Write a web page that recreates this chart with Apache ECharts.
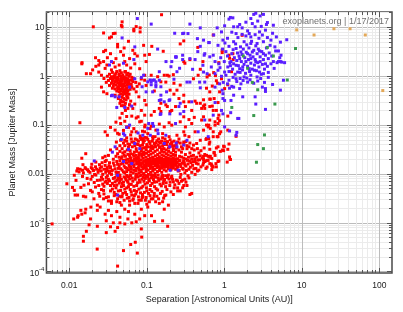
<!DOCTYPE html>
<html><head><meta charset="utf-8">
<script src="https://cdn.jsdelivr.net/npm/echarts@6/dist/echarts.min.js"></script>
<style>html,body{margin:0;padding:0;background:#fff}#c{width:403px;height:312px}</style>
</head><body><div id="c"></div>
<script>
// ---- axis ticks ----
const xTickValues = [0.01, 0.1, 1, 10, 100];
const xTickLabels = ['0.01', '0.1', '1', '10', '100'];
const yTickValues = [10, 1, 0.1, 0.01, 0.001, 0.0001];
const yTickLabels = ['10', '1', '0.1', '0.01', '10^-3', '10^-4'];
const xRange = [0.00507, 146];
const yRange = [0.0000939, 20.7];
const xTitle = 'Separation [Astronomical Units (AU)]';
const yTitle = 'Planet Mass [Jupiter Mass]';
const stamp = 'exoplanets.org | 1/17/2017';

// ---- data: [separation AU, mass Mjup] ----
const redUpper = [
[0.0204,10.3],[0.048,13],[0.048,10.3],[0.068,9.2],[0.082,9.8],[0.082,8.1],[0.0277,7.7],[0.037,7.5],[0.035,6.4],[0.033,6.1],[0.042,4.5],[0.042,4.0],[0.051,3.8],[0.091,4.3],[0.0294,3.4],[0.0277,3.2],[0.046,3.2],[0.05,2.7],[0.07,2.9],[0.0755,2.6],[0.094,2.7],[0.0218,2.4],[0.024,2.1],[0.025,1.9],[0.024,1.7],[0.0145,1.8],[0.0277,2.0],[0.0306,1.7],[0.037,1.9],[0.039,1.55],[0.044,1.7],[0.052,2.0],[0.055,1.7],[0.062,1.48],[0.07,1.8],[0.081,1.43],[0.0166,1.13],[0.0188,1.13],[0.024,1.22],[0.026,1.05],[0.094,1.05],[0.098,0.65],[0.058,0.70],[0.0146,1.9],[0.031,2.4],[0.034,2.9],[0.04,2.3],[0.029,1.45],[0.035,1.35],[0.045,1.3],[0.06,2.3],[0.066,3.4],[0.058,5.2],[0.053,1.25],[0.02,1.35],[0.022,1.6],[0.073,10.4],[0.047,11],[0.039,7.6],[0.068,8.5],
[0.155,18.2],[0.30,5.3],[0.72,7.0],[0.455,3.9],[0.163,3.25],[0.116,4.1],[0.108,2.8],[0.098,2.0],[0.30,2.0],[0.94,3.4],[1.15,2.7],[1.29,2.9],[0.92,0.89],[1.11,0.67],[1.01,0.56],[0.60,0.97],[0.46,1.05],[0.40,0.89],[0.22,1.08],[0.184,1.05],[0.168,1.05],[0.114,1.05],[0.094,0.83],[0.176,0.76],[0.125,0.50],[0.224,0.43],[0.26,0.35],[0.30,0.30],[0.42,0.31],[0.65,0.34],[0.74,0.35],[0.138,0.98],[0.194,1.01],[0.152,0.77],[0.224,0.72],[0.27,0.66],[0.245,0.52],[0.2,0.52],[0.3,0.41],[0.152,0.28],[0.184,0.24],[0.2,0.19],[0.152,0.19],[0.114,0.16],[0.3,0.148],[0.38,0.2],[0.44,0.28],[0.54,0.33],[0.65,0.48],[0.70,0.63],[0.79,0.81],[0.59,0.57],[0.36,2.2],[0.31,1.85],[0.27,4.6],[0.49,1.39],[0.53,2.0],[0.64,1.06],[0.73,1.19],[0.85,1.9],[0.94,3.05],[1.7,6.9],[1.3,2.2],[1.24,1.24],[1.17,2.34],[0.77,1.03],[0.82,0.72],[0.87,0.48],[0.7,0.245],[0.79,0.2],[0.85,0.16],[0.65,0.127],[0.62,0.092],[0.72,0.073],[0.83,0.058],[0.56,0.22],[0.54,0.245],[0.72,0.2],[0.66,0.34]
];
const redHotJupiters = [
[0.036,1.2],[0.041,1.25],[0.047,1.18],[0.052,1.22],[0.057,1.15],[0.033,1.1],[0.039,1.08],[0.044,1.12],[0.049,1.05],[0.055,1.08],[0.061,1.1],[0.031,1.0],[0.035,0.98],[0.038,1.02],[0.042,0.95],[0.046,1.0],[0.051,0.97],[0.054,0.93],[0.059,1.0],[0.064,0.95],[0.034,0.9],[0.037,0.88],[0.04,0.92],[0.043,0.86],[0.047,0.9],[0.05,0.87],[0.053,0.84],[0.057,0.89],[0.062,0.83],[0.032,0.82],[0.036,0.8],[0.039,0.78],[0.041,0.82],[0.045,0.79],[0.048,0.81],[0.052,0.76],[0.055,0.79],[0.058,0.74],[0.066,0.78],[0.035,0.72],[0.038,0.7],[0.042,0.73],[0.044,0.68],[0.047,0.71],[0.05,0.69],[0.053,0.72],[0.056,0.66],[0.06,0.7],[0.033,0.65],[0.037,0.63],[0.04,0.66],[0.043,0.61],[0.046,0.64],[0.049,0.6],[0.052,0.63],[0.055,0.58],[0.059,0.61],[0.064,0.6],[0.036,0.57],[0.039,0.55],[0.042,0.58],[0.045,0.54],[0.048,0.56],[0.051,0.53],[0.054,0.55],[0.057,0.51],[0.061,0.54],[0.041,0.5],[0.044,0.48],[0.047,0.51],[0.05,0.47],[0.053,0.49],[0.056,0.45],[0.046,0.44],[0.049,0.42],[0.052,0.44],[0.044,0.4],[0.055,0.4],[0.059,0.43],[0.048,0.37],[0.051,0.35],[0.054,0.33],[0.057,0.36],[0.05,0.3],[0.053,0.28],[0.046,0.32],[0.062,0.31],[0.06,0.26],[0.047,0.25],[0.057,0.22],[0.053,0.2],[0.066,0.22],[0.07,0.27],[0.052,0.52],[0.049,0.66],[0.045,0.74],[0.041,0.86],[0.038,0.95],[0.044,1.03],[0.049,0.93],[0.04,1.15],[0.058,0.82],[0.063,0.68],[0.067,0.9],[0.072,0.75],[0.075,0.62],[0.068,0.55],[0.073,0.48],[0.08,0.7],[0.085,0.88],[0.03,0.75],[0.028,0.9],[0.026,0.6],[0.043,0.56],[0.056,0.38],[0.0277,0.48],[0.0306,0.44],[0.039,0.41],[0.043,0.35],[0.048,0.3],[0.05,0.25],[0.094,0.32],[0.079,0.38]
];
const redMiddle = [
[0.045,0.28],[0.052,0.245],[0.06,0.26],[0.048,0.174],[0.064,0.153],[0.077,0.148],[0.094,0.16],[0.081,0.117],[0.046,0.108],[0.055,0.092],[0.029,0.073],[0.031,0.062],[0.039,0.079],[0.044,0.065],[0.064,0.073],[0.073,0.073],[0.094,0.073],[0.0405,0.045],[0.052,0.049],[0.064,0.045],[0.085,0.051],[0.0163,0.026],[0.0145,0.021],[0.029,0.023],[0.034,0.031],[0.041,0.033],[0.029,0.018],[0.0137,0.112],
[0.055,0.15],[0.045,0.14],[0.052,0.12],[0.058,0.09],[0.068,0.085],[0.05,0.078],[0.042,0.068],[0.062,0.063],[0.055,0.055],[0.071,0.052],[0.082,0.06],[0.046,0.049],[0.09,0.048],[0.057,0.041],[0.077,0.04],[0.1,0.055],[0.088,0.075],[0.095,0.1],[0.11,0.085],[0.085,0.12],[0.073,0.14],[0.04,0.115],[0.034,0.09],
[0.085,0.2],[0.098,0.26],[0.125,0.19],[0.145,0.22],[0.176,0.26],[0.21,0.2],[0.235,0.24],[0.315,0.24],[0.35,0.30],[0.49,0.28],[0.51,0.22],[0.56,0.26],[0.65,0.24],[0.83,0.29],[0.54,0.148],[0.51,0.127],[0.59,0.1],[0.83,0.137],[1.11,0.153],[0.76,0.117],[0.38,0.108],[0.315,0.092],[0.27,0.117],[0.21,0.1],[0.194,0.112],[0.168,0.092],[0.145,0.105],[0.131,0.079],[0.114,0.095],[0.094,0.092],[0.103,0.067],[0.119,0.058],[0.16,0.067],[0.194,0.058],[0.245,0.062],[0.30,0.073],[0.35,0.058],[0.42,0.073],[0.49,0.049],[0.59,0.053],[0.72,0.058],[0.87,0.067],[1.11,0.079],[0.089,0.053],[0.145,0.045],[0.21,0.045],[0.30,0.045],[0.44,0.042],[0.65,0.045],[0.83,0.036],[0.76,0.024],[0.62,0.023],[0.83,0.018],[0.69,0.015],
[0.35,0.13],[0.31,0.062],[0.41,0.144],[0.63,0.053],[0.54,0.079],
[0.63,0.1],[0.76,0.1],[0.83,0.108],[0.87,0.123],[0.66,0.086],[0.81,0.058],[0.9,0.073],[0.58,0.051],[0.98,0.037],[1.15,0.041],[1.11,0.032],[0.98,0.03],[0.89,0.029],[0.64,0.041],[0.65,0.032],[0.54,0.023],[0.59,0.024],[0.66,0.023],[0.74,0.027],[1.19,0.0198],[1.09,0.0175],[0.78,0.0163],[0.65,0.0163],[0.7,0.0143],[0.69,0.0123],[0.79,0.014],[0.56,0.018],[0.62,0.019],[0.85,0.0185],[1.42,0.059]
];
const redCore = [
[0.062,0.011],[0.062,0.014],[0.062,0.017],[0.062,0.021],[0.062,0.026],[0.063,0.0125],[0.063,0.019],[0.061,0.0095],[0.061,0.03],[0.064,0.016],
[0.068,0.012],[0.068,0.0155],[0.067,0.018],[0.068,0.023],[0.069,0.028],[0.067,0.0105],[0.069,0.02],[0.068,0.014],[0.067,0.025],
[0.073,0.0098],[0.073,0.013],[0.074,0.016],[0.072,0.019],[0.073,0.024],[0.074,0.029],[0.072,0.0115],[0.073,0.021],[0.074,0.0175],[0.073,0.033],
[0.079,0.0105],[0.078,0.0135],[0.08,0.015],[0.079,0.018],[0.078,0.022],[0.08,0.027],[0.079,0.012],[0.078,0.02],[0.08,0.025],[0.079,0.016],
[0.085,0.0095],[0.084,0.012],[0.086,0.014],[0.085,0.017],[0.084,0.0195],[0.086,0.023],[0.085,0.03],[0.084,0.0155],[0.086,0.026],[0.085,0.011],
[0.091,0.0102],[0.09,0.0128],[0.092,0.015],[0.091,0.0185],[0.09,0.021],[0.092,0.025],[0.091,0.028],[0.09,0.0165],[0.092,0.0135],[0.091,0.034],
[0.098,0.0112],[0.097,0.0138],[0.099,0.016],[0.098,0.019],[0.097,0.022],[0.099,0.0265],[0.098,0.031],[0.097,0.0175],[0.099,0.0125],[0.098,0.0145],
[0.105,0.0098],[0.104,0.012],[0.106,0.0148],[0.105,0.017],[0.104,0.02],[0.106,0.024],[0.105,0.0285],[0.104,0.0185],[0.106,0.0158],[0.105,0.036],
[0.112,0.0108],[0.111,0.013],[0.113,0.0152],[0.112,0.0178],[0.111,0.021],[0.113,0.0255],[0.112,0.03],[0.111,0.0192],[0.113,0.0165],[0.112,0.0142],
[0.12,0.0115],[0.119,0.0138],[0.121,0.016],[0.12,0.0188],[0.119,0.022],[0.121,0.027],[0.12,0.033],[0.119,0.0175],[0.121,0.0205],[0.12,0.0125],
[0.128,0.0102],[0.127,0.0125],[0.129,0.0148],[0.128,0.017],[0.127,0.0198],[0.129,0.0235],[0.128,0.029],[0.127,0.0185],[0.129,0.0158],[0.128,0.038],
[0.137,0.0112],[0.136,0.0135],[0.138,0.0158],[0.137,0.0182],[0.136,0.021],[0.138,0.025],[0.137,0.031],[0.136,0.0195],[0.138,0.0168],[0.137,0.0145],
[0.146,0.0118],[0.145,0.0142],[0.147,0.0165],[0.146,0.019],[0.145,0.0225],[0.147,0.027],[0.146,0.0205],[0.145,0.0175],[0.147,0.0128],[0.146,0.035],
[0.156,0.0108],[0.155,0.0132],[0.157,0.0155],[0.156,0.018],[0.155,0.021],[0.157,0.0245],[0.156,0.029],[0.155,0.0195],[0.157,0.0168],[0.156,0.0145],
[0.167,0.0122],[0.166,0.0148],[0.168,0.0172],[0.167,0.02],[0.166,0.0235],[0.168,0.028],[0.167,0.019],[0.166,0.0162],[0.168,0.0138],[0.167,0.033],
[0.178,0.0115],[0.177,0.014],[0.179,0.0165],[0.178,0.019],[0.177,0.022],[0.179,0.026],[0.178,0.0205],[0.177,0.0178],[0.179,0.0152],[0.178,0.031],
[0.19,0.0128],[0.189,0.0155],[0.191,0.018],[0.19,0.021],[0.189,0.0245],[0.191,0.0195],[0.19,0.0168],[0.189,0.0142],[0.191,0.029],
[0.205,0.0122],[0.204,0.0148],[0.206,0.0172],[0.205,0.0198],[0.204,0.023],[0.206,0.027],[0.205,0.0185],[0.204,0.016],[0.206,0.0135],
[0.22,0.0132],[0.219,0.0158],[0.221,0.0185],[0.22,0.0215],[0.219,0.025],[0.221,0.0195],[0.22,0.0168],[0.219,0.0145],[0.221,0.03],
[0.236,0.0125],[0.235,0.015],[0.237,0.0175],[0.236,0.0205],[0.235,0.024],[0.237,0.0188],[0.236,0.0162],[0.235,0.028]
];
const redCoreEdge = [
[0.036,0.012],[0.038,0.015],[0.04,0.011],[0.041,0.018],[0.043,0.013],[0.044,0.022],[0.045,0.0095],[0.046,0.016],[0.048,0.012],[0.049,0.027],[0.05,0.019],[0.051,0.0145],[0.052,0.0105],[0.053,0.023],[0.054,0.017],[0.055,0.013],[0.056,0.031],[0.057,0.02],[0.058,0.0088],[0.059,0.015],[0.06,0.024],[0.037,0.02],[0.039,0.0085],[0.042,0.026],[0.047,0.0078],[0.05,0.0068],[0.053,0.0082],[0.056,0.0072],[0.059,0.0062],[0.044,0.0065],[0.041,0.0074],[0.038,0.0058],[0.047,0.0055],[0.055,0.0052],[0.035,0.0098],[0.034,0.0135],[0.032,0.0115],[0.033,0.017],[0.03,0.0125],[0.031,0.0092],[0.048,0.033],[0.052,0.038],[0.045,0.029],[0.058,0.035],[0.04,0.023],
[0.25,0.014],[0.26,0.019],[0.265,0.023],[0.27,0.016],[0.28,0.028],[0.29,0.013],[0.3,0.021],[0.305,0.017],[0.315,0.025],[0.32,0.0145],[0.33,0.033],[0.335,0.019],[0.345,0.022],[0.35,0.0125],[0.36,0.027],[0.37,0.017],[0.38,0.02],[0.39,0.015],[0.4,0.024],[0.41,0.031],[0.42,0.018],[0.43,0.013],[0.44,0.022],[0.46,0.016],[0.47,0.027],[0.48,0.0195],[0.5,0.014],[0.52,0.021],[0.54,0.017],[0.56,0.025],[0.58,0.013],[0.6,0.019],[0.26,0.031],[0.28,0.036],[0.3,0.041],[0.33,0.038],[0.36,0.043],[0.255,0.0115],[0.275,0.0098],[0.31,0.0105],[0.34,0.0092],[0.38,0.0108],[0.42,0.0098],[0.45,0.0115],[0.27,0.0085],[0.29,0.0075],[0.25,0.0072],[0.32,0.0068],[0.38,0.033],[0.5,0.03],[0.55,0.034],[0.65,0.022],[0.68,0.016],[0.47,0.012],[0.6,0.0139],[0.72,0.0139],[0.54,0.0198],[0.69,0.0207],[0.74,0.0275],[0.79,0.034],[1.0,0.036],[0.95,0.031],[1.17,0.0223],[1.2,0.0198],
[0.065,0.036],[0.075,0.041],[0.082,0.038],[0.09,0.044],[0.1,0.04],[0.108,0.046],[0.115,0.037],[0.125,0.042],[0.135,0.048],[0.14,0.039],[0.15,0.043],[0.16,0.037],[0.17,0.045],[0.18,0.04],[0.195,0.036],[0.21,0.042],[0.23,0.038],[0.25,0.045],[0.12,0.053],[0.16,0.055],[0.2,0.05],[0.095,0.056],[0.075,0.05],[0.24,0.034],[0.22,0.033],[0.113,0.034],[0.13,0.036],[0.155,0.032],[0.085,0.033],[0.068,0.045]
];
const redCoreFill = [
[0.037,0.0081],[0.039,0.0069],[0.041,0.0059],[0.043,0.0088],[0.045,0.0072],[0.048,0.0064],[0.051,0.0087],[0.052,0.0049],[0.054,0.0076],[0.058,0.0055],[0.06,0.0079],[0.063,0.0061],[0.066,0.0071],[0.069,0.0046],[0.071,0.0078],[0.074,0.0058],[0.077,0.0087],[0.079,0.0049],[0.082,0.0068],[0.087,0.0078],[0.089,0.0056],[0.092,0.0071],[0.096,0.0081],[0.099,0.0052],[0.102,0.0066],[0.108,0.0072],[0.11,0.0048],[0.114,0.0083],[0.117,0.0064],[0.122,0.0077],[0.126,0.0055],[0.13,0.0086],[0.134,0.0069],[0.138,0.0047],[0.143,0.0074],[0.151,0.0079],[0.154,0.0057],[0.16,0.0082],[0.163,0.0064],[0.17,0.0077],[0.178,0.0066],[0.182,0.0048],[0.193,0.0079],[0.198,0.0058],[0.208,0.0084],[0.22,0.0069],[0.226,0.0052],[0.24,0.0075],[0.26,0.0064],[0.28,0.0071],[0.29,0.0052],[0.31,0.0078],[0.33,0.0058],[0.35,0.0083],[0.045,0.0085],[0.055,0.0093],[0.075,0.0095],[0.098,0.0092],[0.12,0.0094],[0.175,0.0092],
[0.041,0.0098],[0.043,0.0108],[0.044,0.0145],[0.046,0.0128],[0.047,0.021],[0.049,0.0165],[0.05,0.011],[0.051,0.0245],[0.053,0.0135],[0.054,0.0195],[0.055,0.0112],[0.056,0.0168],[0.057,0.0252],[0.058,0.0122],[0.059,0.0182],[0.06,0.0138],[0.061,0.0215],[0.042,0.0158],[0.039,0.0128],[0.037,0.0168],[0.035,0.0115],[0.045,0.0188],[0.048,0.0225],[0.052,0.0285],[0.245,0.0135],[0.248,0.0172],[0.252,0.0205],[0.258,0.0155],[0.262,0.0118],[0.268,0.0188],[0.275,0.0142],[0.282,0.0222],[0.288,0.0165],[0.295,0.0125],[0.298,0.0185],[0.31,0.0152],[0.318,0.0202],[0.325,0.0118],[0.34,0.016],[0.355,0.0185],[0.365,0.0138],[0.375,0.0232],[0.395,0.0178],[0.405,0.0128],[0.415,0.0205],[0.435,0.0165],[0.455,0.0192],[0.49,0.0235],[0.53,0.0152],[0.57,0.0185],
[0.045,0.038],[0.05,0.043],[0.055,0.047],[0.06,0.04],[0.063,0.052],[0.07,0.038],[0.078,0.047],[0.083,0.055],[0.088,0.039],[0.093,0.048],[0.097,0.035],[0.103,0.051],[0.11,0.042],[0.118,0.047],[0.122,0.036],[0.128,0.058],[0.132,0.044],[0.142,0.052],[0.148,0.036],[0.155,0.047],[0.165,0.04],[0.172,0.052],[0.185,0.046],[0.19,0.034],[0.2,0.041],[0.215,0.037],[0.225,0.047],[0.24,0.04],[0.27,0.043],[0.29,0.033],[0.32,0.046],[0.35,0.036],[0.4,0.039],[0.45,0.033],[0.26,0.052],
[0.026,0.0048],[0.028,0.0056],[0.031,0.0064],[0.032,0.0078],[0.034,0.0058],[0.036,0.0049],[0.038,0.0042],[0.04,0.0038],[0.043,0.0045],[0.044,0.0035],[0.049,0.004],[0.051,0.0029],[0.055,0.0038],[0.059,0.0033],[0.063,0.0043],[0.067,0.0031],[0.069,0.0036],[0.074,0.0044],[0.079,0.0029],[0.083,0.0041],[0.087,0.0033],[0.093,0.0042],[0.096,0.0029],[0.105,0.004],[0.108,0.0027],[0.116,0.0044],[0.124,0.0035],[0.142,0.0031],[0.158,0.0044],[0.165,0.0032],[0.205,0.0043],[0.22,0.0038],[0.028,0.0039],[0.03,0.0033],[0.024,0.0058],[0.021,0.0067],[0.019,0.0078],[0.022,0.0095],[0.027,0.0078],[0.03,0.0072]
];
const redLower = [
[0.03,0.0085],[0.033,0.0072],[0.036,0.0064],[0.04,0.0052],[0.043,0.0078],[0.046,0.0046],[0.05,0.0058],[0.053,0.0042],[0.057,0.0068],[0.061,0.0048],[0.065,0.0082],[0.068,0.0056],[0.072,0.0039],[0.076,0.0066],[0.08,0.0075],[0.085,0.0052],[0.09,0.0085],[0.095,0.0062],[0.1,0.0045],[0.106,0.0078],[0.112,0.0058],[0.118,0.0088],[0.125,0.0068],[0.132,0.005],[0.14,0.0082],[0.148,0.0062],[0.156,0.0088],[0.165,0.0072],[0.175,0.0055],[0.185,0.0085],[0.2,0.0068],[0.215,0.0078],[0.23,0.006],[0.25,0.0052],[0.27,0.0045],[0.3,0.0058],[0.36,0.0038],[0.38,0.004],[0.25,0.0045],[0.062,0.0092],[0.072,0.0088],[0.082,0.0092],[0.093,0.0095],[0.103,0.0088],[0.115,0.0095],[0.128,0.009],[0.14,0.0095],[0.16,0.0093],[0.19,0.0095],[0.21,0.009],[0.048,0.0035],[0.056,0.0032],[0.064,0.0037],[0.078,0.0034],[0.088,0.0038],[0.098,0.0033],[0.11,0.0036],[0.12,0.0031],[0.135,0.0035],[0.15,0.004],[0.17,0.0036],[0.042,0.0031],[0.038,0.0036],[0.034,0.0045],[0.027,0.0062],[0.025,0.0075],[0.035,0.0028],[0.045,0.0026],[0.06,0.0028],[0.07,0.0025],[0.085,0.0029],[0.1,0.0024],[0.13,0.0027],[0.16,0.0027],[0.19,0.0023],[0.168,0.0019],
[0.023,0.0023],[0.023,0.0018],[0.019,0.0021],[0.0163,0.0019],[0.016,0.0016],[0.0145,0.0015],[0.0141,0.0018],[0.013,0.0014],[0.0128,0.0013],[0.0114,0.0012],[0.0188,0.0012],[0.03,0.0011],[0.034,0.00083],[0.037,0.001],[0.039,0.00067],[0.042,0.0008],[0.045,0.001],[0.052,0.00095],[0.057,0.0012],[0.064,0.001],[0.073,0.00105],[0.081,0.0012],[0.085,0.00075],[0.086,0.00051],[0.094,0.0014],[0.115,0.0014],[0.126,0.00107],[0.16,0.0011],[0.186,0.00085],[0.006,0.00095],[0.018,0.00091],[0.0166,0.00067],[0.0152,0.00053],[0.0152,0.00042],[0.023,0.00085],[0.0229,0.00029],[0.03,0.00063],[0.042,0.00013],[0.05,0.00027],[0.062,0.00036],[0.071,0.0004],[0.0755,0.00024]
];
const redLeftTail = [
[0.0093,0.0063],[0.0128,0.0128],[0.0134,0.011],[0.0148,0.0119],[0.0163,0.0128],[0.0177,0.0114],[0.0198,0.0128],[0.0218,0.014],[0.024,0.0119],[0.026,0.014],[0.0306,0.0119],[0.034,0.014],[0.0116,0.0094],[0.0122,0.0074],[0.0148,0.0089],[0.017,0.0081],[0.0198,0.0089],[0.023,0.0074],[0.026,0.0086],[0.029,0.0068],[0.0141,0.0053],[0.0155,0.0059],[0.0188,0.0046],[0.0218,0.0054],[0.024,0.004],[0.0277,0.0046],[0.032,0.0034],[0.011,0.0053],[0.0128,0.0037],[0.0163,0.0034],[0.0208,0.0031],[0.0177,0.0063],[0.0116,0.0046],[0.0119,0.0037],[0.0152,0.0035],[0.0198,0.0043],[0.0247,0.0035],[0.0277,0.0031],[0.032,0.0028],[0.035,0.0025],[0.041,0.0027],[0.047,0.0034],[0.052,0.0019],[0.06,0.0023],[0.066,0.0029],[0.077,0.0025],[0.089,0.0034],[0.103,0.0021],[0.114,0.0031],[0.125,0.004],[0.145,0.0025],[0.176,0.0037],[0.035,0.0014],[0.041,0.0017],[0.045,0.0013],[0.032,0.0018],[0.025,0.0021],[0.029,0.0015],[0.047,0.0023],[0.058,0.0017],[0.07,0.0015],[0.085,0.0019],
[0.0125,0.0115],[0.0138,0.0125],[0.0152,0.0105],[0.016,0.0135],[0.0172,0.0122],[0.0185,0.0108],[0.0192,0.0135],[0.0205,0.0118],[0.0212,0.0098],[0.0225,0.0125],[0.0235,0.0108],[0.025,0.0132],[0.0258,0.0115],[0.027,0.0098],[0.028,0.0125],[0.029,0.015],[0.0295,0.0108],[0.031,0.0135],[0.0325,0.0148],[0.033,0.0105],[0.0265,0.017],[0.0245,0.0155],[0.0195,0.0158],[0.015,0.0155],[0.022,0.0175],[0.03,0.019],[0.027,0.0215],[0.032,0.024]
];
const bluePoints = [
[0.0755,15.2],[0.114,11.7],[0.36,11.7],[0.30,7.6],[0.229,7.6],[0.138,3.6],[0.177,2.0],[0.238,2.45],[0.205,1.57],[0.265,1.46],[0.42,2.2],[0.39,1.39],[0.455,3.2],[0.55,2.7],[0.73,7.0],[0.63,4.9],[0.131,0.77],[0.152,0.61],[0.131,0.61],[0.119,0.48],[0.18,0.48],[0.198,0.33],[0.152,0.33],[0.224,0.87],[0.114,0.77],[0.103,0.77],[0.085,0.95],[0.087,0.61],[0.145,1.24],[0.05,1.85],[0.035,2.0],[0.044,0.38],[0.035,0.40],[0.26,0.24],[0.30,0.19],[0.198,0.17],[0.149,0.166],[0.106,0.108],[0.122,0.095],[0.14,0.067],[0.111,0.062],[0.077,0.069],[0.05,0.067],[0.055,0.09],[0.047,0.051],[0.058,0.032],[0.036,0.028],[0.021,0.0185],[0.254,0.0119],[0.064,0.0163],[0.081,0.033],[0.176,0.062],[0.198,0.036],[0.56,0.127],[0.72,0.16],[0.96,0.17],[1.21,0.18],[1.45,0.071],[1.42,0.062],[1.54,0.137],[0.96,0.35],[0.76,0.29],[0.92,0.2],[0.24,0.043],[0.245,0.036],
[0.49,9.8],[0.29,7.5],[0.34,7.5],[0.81,9.8],[0.92,8.1],[1.15,14.8],[1.29,15.7],[1.01,10.8],[1.32,10.3],[1.58,11.5],[0.45,5.9],[0.54,5.5],[0.64,4.9],[0.49,4.1],[0.83,4.3],[0.96,5.5],[0.24,2.5],[0.29,2.7],[0.36,2.3],[0.56,2.9],[0.65,2.5],[0.72,2.7],[0.76,2.0],[0.85,1.8],[0.83,1.33],[0.68,1.55],[0.53,1.68],[0.54,1.22],[0.6,1.13],[0.76,1.13],[1.01,1.22],[1.11,1.55],[1.22,2.0],[1.42,1.68],[1.58,1.43],[0.119,0.83],[0.145,0.83],[0.114,0.67],[0.131,0.67],[0.152,0.41],[0.145,0.32],[0.194,0.32],[0.33,0.76],[0.36,0.76],[0.48,0.76],[0.56,0.76],[0.49,0.58],[0.76,0.6],[0.87,0.7],[0.96,0.44],[1.01,0.32],[1.22,0.32],[1.32,0.41],[1.58,0.56],[1.15,0.83],[1.32,0.6],
[2.4,18.5],[2.9,17.2],[3.2,18.5],[1.49,10.3],[1.7,9.8],[2.3,12],[2.5,10.3],[3.5,11.5],[4.3,11.1],[3.4,8.8],[2.85,8.1],[2.1,7.5],[1.9,6.7],[1.42,7.5],[1.32,5.1],[1.8,5.1],[2.2,4.7],[2.65,4.7],[3.2,5.1],[3.9,4.3],[4.5,4.0],[5.0,3.3],[5.4,2.7],[5.0,2.0],[4.3,2.0],[3.7,2.3],[3.2,2.9],[2.85,3.3],[2.3,3.15],[2.0,2.9],[1.64,3.15],[1.42,3.7],[1.58,2.3],[1.9,2.0],[2.2,2.3],[2.55,2.0],[2.9,2.0],[3.4,1.8],[1.32,1.8],[1.73,1.55],[2.1,1.43],[2.45,1.33],[2.85,1.22],[3.2,1.13],[1.49,1.22],[1.8,0.97],[2.2,1.05],[2.65,0.97],[1.42,0.89],[1.64,0.7],[2.0,0.76],[3.1,0.6],[3.4,0.56],[5.8,0.83],[2.55,0.27],[3.4,0.21],
[2.55,19.5],[1.2,16],[3.6,12.6],[4.2,7.6],[6.4,5.6],[5.3,2.0],[0.94,0.52],[1.17,0.57],[1.73,0.38],[2.5,0.38],[3.4,0.49],[5.3,0.52],
[0.041,0.23],[0.052,0.23],[0.064,0.245],[0.06,0.1],[0.052,0.062],[0.07,0.042],[0.039,0.036],[0.042,0.0094],[0.05,0.018],[0.042,0.0037],[0.168,0.30],[0.27,0.28],[0.152,0.17],[0.119,0.108],[0.138,0.079],[0.235,0.108],[0.27,0.17],[0.38,0.30],[0.46,0.073],[1.01,0.092],[1.49,0.137],[0.089,0.062],[0.103,0.086],[0.2,0.0119],[0.33,0.049],[0.30,0.039],[0.168,0.042],[1.17,0.076],[0.62,0.058],
[0.11,0.84],[0.125,0.84],[0.245,1.24],[0.21,2.0],[0.235,2.5],[0.29,2.2],
[0.048,6.1],[0.07,4.0],[0.068,2.2],[0.033,1.7],[0.091,1.05],[0.07,0.89],[0.098,0.48],[0.06,0.6],[0.039,0.38],[0.036,0.41],
[1.05,3.2],[1.1,2.6],[1.15,4.1],[1.18,1.9],[1.25,2.9],[1.28,1.4],[1.3,3.5],[1.35,2.4],[1.38,1.1],[1.4,4.6],[1.45,2.1],[1.48,3.0],[1.52,1.65],[1.55,2.6],[1.6,1.2],[1.62,4.0],[1.66,2.0],[1.7,2.8],[1.72,1.35],[1.76,3.6],[1.8,1.75],[1.84,2.4],[1.88,1.15],[1.92,3.1],[1.95,4.4],[2.0,1.6],[2.05,2.2],[2.08,3.8],[2.12,1.25],[2.15,2.7],[2.2,1.85],[2.25,5.2],[2.3,1.4],[2.35,2.5],[2.4,3.4],[2.45,1.7],[2.5,2.2],[2.55,4.2],[2.6,1.3],[2.65,2.9],[2.7,1.9],[2.75,3.6],[2.8,1.55],[2.9,2.5],[3.0,1.1],[3.05,3.2],[3.1,1.75],[3.2,2.2],[3.3,1.4],[3.4,2.7],[3.5,3.8],[3.6,1.6],[3.7,1.2],[3.8,3.0],[4.0,1.8],[4.1,2.6],[4.4,1.45],[4.6,3.3],[4.8,1.9],[5.2,2.4],[5.5,1.95],[6.0,1.9],[1.2,1.65],[1.3,0.95],[1.45,0.78],[1.6,0.9],[1.75,0.82],[1.95,0.92],[2.15,0.85],[2.4,0.72],[2.7,0.8],[2.95,0.9],[3.3,0.75],[3.7,0.95],[4.2,0.68],[1.1,0.7],[1.25,0.62],[1.5,6.2],[1.7,7.2],[2.0,8.5],[2.2,6.4],[2.5,7.1],[2.8,6.0],[3.1,7.0],[3.6,6.2],[4.0,5.5],[4.7,6.4],[5.3,5.0],[1.1,6.0],[1.25,8.0],[1.9,12.8],[2.2,15.2],[2.7,13.5],[3.0,10.5],[1.05,1.05],[1.15,1.25],[0.9,2.4],[0.95,3.6],[0.88,1.5],[1.0,2.0],[1.02,4.8],[0.92,1.0],[0.97,0.75]
];
const greenPoints = [[8.3,3.7],[6.5,0.84],[4.5,0.27],[2.4,0.157],[1.25,0.23],[3.3,0.063],[2.7,0.040],[3.2,0.033],[2.6,0.0174],[2.7,0.53],[2.3,0.75],[3.6,3.9],[4.3,2.6],[1.76,2.6],[2.0,1.46]];
const orangePoints = [[8.6,8.9],[14.4,7.0],[26,9.4],[42,9.4],[66,7.0],[111,0.51]];

// ---- build chart ----
const L = Math.log10;
const toLog = arr => arr.map(p => [L(p[0]), L(p[1])]);
const redPoints = [].concat(redUpper, redHotJupiters, redMiddle, redCore, redCoreEdge, redCoreFill, redLower, redLeftTail);
const lx = xRange.map(L), ly = yRange.map(L);
const xMajor = xTickValues.map(L), yMajor = yTickValues.map(L);
function minors(lo, hi) {
  const out = [];
  for (let d = Math.floor(lo) - 1; d <= Math.ceil(hi); d++)
    for (let k = 2; k <= 9; k++) { const v = d + L(k); if (v > lo && v < hi) out.push(v); }
  return out;
}
const xMinor = minors(lx[0], lx[1]), yMinor = minors(ly[0], ly[1]);
const FONT = 'Liberation Sans';
function lbl(vals, labels, v) {
  for (let i = 0; i < vals.length; i++) if (Math.abs(L(vals[i]) - v) < 1e-6) return labels[i];
  return '';
}
function axis(dim, pos, ticks, major, extra) {
  const lo = dim === 'x' ? lx[0] : ly[0], hi = dim === 'x' ? lx[1] : ly[1];
  return Object.assign({
    type: 'value', position: pos, min: lo, max: hi,
    axisLine: { show: false, onZero: false },
    axisTick: { show: true, inside: true, length: major ? 5 : 3, customValues: ticks, lineStyle: { color: '#555', width: 1 } },
    axisLabel: { show: false },
    splitLine: { show: false }
  }, extra || {});
}
const xAxes = [
  axis('x', 'bottom', xMajor, true, {
    axisLabel: { show: true, customValues: xMajor, margin: 8, color: '#222', fontSize: 8.5, fontFamily: FONT,
      formatter: v => lbl(xTickValues, xTickLabels, v) },
    splitLine: { show: true, lineStyle: { color: '#bcbcbc', width: 1 } },
    name: xTitle, nameLocation: 'middle', nameGap: 19,
    nameTextStyle: { color: '#222', fontSize: 9, fontFamily: FONT }
  }),
  axis('x', 'bottom', xMinor, false, { splitLine: { show: true, lineStyle: { color: '#ebebeb', width: 1 } } }),
  axis('x', 'top', xMajor, true),
  axis('x', 'top', xMinor, false)
];
const yAxes = [
  axis('y', 'left', yMajor, true, {
    axisLabel: { show: true, customValues: yMajor, margin: 2, color: '#222', fontSize: 8.5, fontFamily: FONT,
      formatter: v => { const s = lbl(yTickValues, yTickLabels, v); const m = s.split('^'); return m.length > 1 ? '{b|' + m[0] + '}{s|' + m[1] + '}' : s; },
      rich: { b: { fontSize: 8.5, fontFamily: FONT, color: '#222', padding: [4, 0, 0, 0] }, s: { fontSize: 6, fontFamily: FONT, color: '#222', padding: [0, 0, 4, 0] } } },
    splitLine: { show: true, lineStyle: { color: '#bcbcbc', width: 1 } },
    name: yTitle, nameLocation: 'middle', nameGap: 21, nameRotate: 90,
    nameTextStyle: { color: '#222', fontSize: 9, fontFamily: FONT }
  }),
  axis('y', 'left', yMinor, false, { splitLine: { show: true, lineStyle: { color: '#ebebeb', width: 1 } } }),
  axis('y', 'right', yMajor, true),
  axis('y', 'right', yMinor, false)
];
function sc(name, data, color) {
  return { type: 'scatter', name, data: toLog(data), symbol: 'rect', symbolSize: 3, silent: true,
    itemStyle: { color, opacity: 1 }, xAxisIndex: 0, yAxisIndex: 0, animation: false };
}
const chart = echarts.init(document.getElementById('c'), null, { renderer: 'canvas' });
chart.setOption({
  animation: false,
  backgroundColor: '#fff',
  grid: { left: 40, right: 11, top: 12, bottom: 39, show: true, borderColor: '#4a4a4a', borderWidth: 1.5, backgroundColor: 'transparent' },
  xAxis: xAxes, yAxis: yAxes,
  graphic: [{ type: 'text', right: 14, top: 17, z: 10,
    style: { text: stamp, fill: '#707070', font: '9px "Liberation Sans"' } }],
  series: [
    sc('Transit/other', redPoints, '#ff0000'),
    sc('Radial velocity', bluePoints, '#5a1eff'),
    sc('Microlensing', greenPoints, '#3a9a4e'),
    sc('Imaging', orangePoints, '#e3a858')
  ]
});
</script></body></html>
